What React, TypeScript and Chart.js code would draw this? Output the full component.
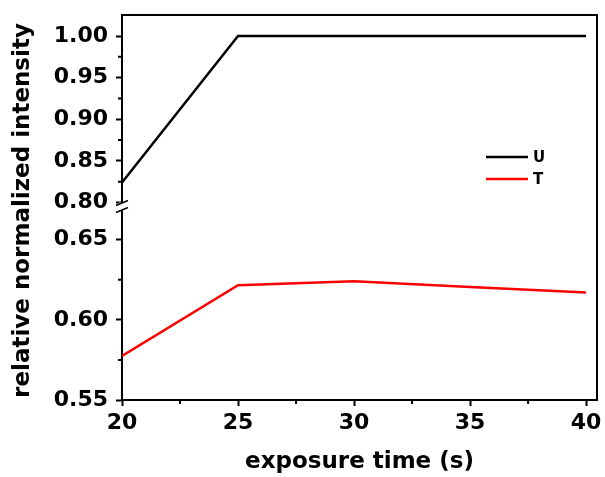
import { useEffect, useRef } from 'react';
import { Chart, registerables } from 'chart.js';
Chart.register(...registerables);

const exposureTimes = [20, 25, 30, 35, 40];
const seriesU = [0.824, 1.0, 1.0, 1.0, 1.0];
const seriesT = [0.5775, 0.6215, 0.624, 0.6205, 0.617];
const xTicks = [20, 25, 30, 35, 40];
const xMinorTicks = [22.5, 27.5, 32.5, 37.5];
const yTopTicks = [0.8, 0.85, 0.9, 0.95, 1.0];
const yTopMinor = [0.825, 0.875, 0.925, 0.975];
const yBottomTicks = [0.55, 0.6, 0.65];
const yBottomMinor = [0.575, 0.625];
const seriesLabels = ['U', 'T'];
const seriesColors = ['#000000', '#ff0000'];
const xTitle = 'exposure time (s)';
const yTitle = 'relative normalized intensity';

const FAMILY = "'DejaVu Sans', sans-serif";

const decorPlugin = {
  id: 'decor',
  afterDraw(chart: any) {
    const { ctx, chartArea } = chart;
    const { left, right, top, bottom } = chartArea;
    const x = chart.scales.x;
    const yT = chart.scales.yTop;
    const yB = chart.scales.yBottom;
    ctx.save();
    ctx.strokeStyle = '#000';
    ctx.lineWidth = 2;
    // box top & right
    ctx.beginPath();
    ctx.moveTo(left - 1, top);
    ctx.lineTo(right, top);
    ctx.lineTo(right, bottom + 1);
    ctx.stroke();
    // minor ticks
    ctx.beginPath();
    xMinorTicks.forEach((v) => {
      const px = x.getPixelForValue(v);
      ctx.moveTo(px, bottom);
      ctx.lineTo(px, bottom + 4);
    });
    yTopMinor.forEach((v) => {
      const py = yT.getPixelForValue(v);
      ctx.moveTo(left, py);
      ctx.lineTo(left - 4, py);
    });
    yBottomMinor.forEach((v) => {
      const py = yB.getPixelForValue(v);
      ctx.moveTo(left, py);
      ctx.lineTo(left - 4, py);
    });
    ctx.stroke();
    // axis break
    const by = yT.bottom;
    ctx.fillStyle = '#ffffff';
    ctx.fillRect(left - 3, by - 3, 6, 8);
    ctx.lineWidth = 1.5;
    ctx.beginPath();
    ctx.moveTo(left - 6, by + 0);
    ctx.lineTo(left + 6, by - 5);
    ctx.moveTo(left - 6, by + 7);
    ctx.lineTo(left + 6, by + 2);
    ctx.stroke();
    // legend
    const legendX = 486;
    const legendY = [157, 179];
    ctx.lineWidth = 2.5;
    chart.data.datasets.forEach((ds: any, i: number) => {
      ctx.strokeStyle = ds.borderColor;
      ctx.beginPath();
      ctx.moveTo(legendX, legendY[i]);
      ctx.lineTo(legendX + 42, legendY[i]);
      ctx.stroke();
      ctx.fillStyle = '#000';
      ctx.font = `bold 15px ${FAMILY}`;
      ctx.textAlign = 'left';
      ctx.textBaseline = 'middle';
      ctx.fillText(ds.label, legendX + 47, legendY[i] + 1);
    });
    // y title
    ctx.save();
    ctx.translate(23, (top + bottom) / 2 + 3);
    ctx.rotate(-Math.PI / 2);
    ctx.fillStyle = '#000';
    ctx.font = `bold 23px ${FAMILY}`;
    ctx.textAlign = 'center';
    ctx.textBaseline = 'middle';
    ctx.fillText(yTitle, 0, 0);
    ctx.restore();
    ctx.restore();
  },
};

const bgPlugin = {
  id: 'bg',
  beforeDraw(chart: any) {
    const { ctx, width, height } = chart;
    ctx.save();
    ctx.fillStyle = '#ffffff';
    ctx.fillRect(0, 0, width, height);
    ctx.restore();
  },
};

export default function App() {
  const ref = useRef<HTMLCanvasElement | null>(null);
  useEffect(() => {
    document.body.style.margin = '0';
    const tickFont = { family: FAMILY, weight: 'bold' as const, size: 22 };
    const axisCommon = {
      grid: { drawOnChartArea: false, drawTicks: true, tickLength: 6, tickWidth: 2, tickColor: '#000' },
      border: { display: true, width: 2, color: '#000' },
    };
    const fitY = (s: any) => { s.width = 122; s.paddingTop = 0; s.paddingBottom = 0; };
    const chart = new Chart(ref.current as HTMLCanvasElement, {
      type: 'line',
      data: {
        datasets: [
          {
            label: seriesLabels[0],
            data: exposureTimes.map((t, i) => ({ x: t, y: seriesU[i] })),
            borderColor: seriesColors[0],
            backgroundColor: seriesColors[0],
            borderWidth: 2.5,
            pointRadius: 0,
            tension: 0,
            yAxisID: 'yTop',
          },
          {
            label: seriesLabels[1],
            data: exposureTimes.map((t, i) => ({ x: t, y: seriesT[i] })),
            borderColor: seriesColors[1],
            backgroundColor: seriesColors[1],
            borderWidth: 2.5,
            pointRadius: 0,
            tension: 0,
            yAxisID: 'yBottom',
          },
        ],
      },
      options: {
        animation: false,
        responsive: false,
        maintainAspectRatio: false,
        layout: { padding: { left: 0, right: 8, top: 15, bottom: 0 } },
        plugins: { legend: { display: false }, tooltip: { enabled: false } },
        scales: {
          x: {
            type: 'linear',
            min: 20,
            max: 40.47,
            ...axisCommon,
            afterBuildTicks: (s: any) => { s.ticks = xTicks.map((v) => ({ value: v })); },
            afterFit: (s: any) => { s.height = 77; s.paddingLeft = 0; s.paddingRight = 0; },
            ticks: { color: '#000', font: tickFont, padding: 4, maxRotation: 0, autoSkip: false, callback: (v: any) => String(v) },
            title: { display: true, text: xTitle, color: '#000', font: { family: FAMILY, weight: 'bold', size: 23 }, padding: { top: 0, bottom: 1 } },
          },
          yBottom: {
            type: 'linear',
            position: 'left',
            stack: 'v',
            stackWeight: 194,
            min: 0.55,
            max: 0.67125,
            ...axisCommon,
            afterBuildTicks: (s: any) => { s.ticks = yBottomTicks.map((v) => ({ value: v })); },
            afterFit: fitY,
            ticks: { color: '#000', font: tickFont, padding: 8, autoSkip: false, callback: (v: any) => Number(v).toFixed(2) },
          },
          yTop: {
            type: 'linear',
            position: 'left',
            stack: 'v',
            stackWeight: 190,
            min: 0.7964,
            max: 1.0253,
            ...axisCommon,
            afterBuildTicks: (s: any) => { s.ticks = yTopTicks.map((v) => ({ value: v })); },
            afterFit: fitY,
            ticks: { color: '#000', font: tickFont, padding: 8, autoSkip: false, callback: (v: any) => Number(v).toFixed(2) },
          },
        },
      } as any,
      plugins: [bgPlugin, decorPlugin],
    });
    return () => chart.destroy();
  }, []);
  return (
    <div style={{ width: 605, height: 477 }}>
      <canvas ref={ref} width={605} height={477} style={{ display: 'block' }} />
    </div>
  );
}
